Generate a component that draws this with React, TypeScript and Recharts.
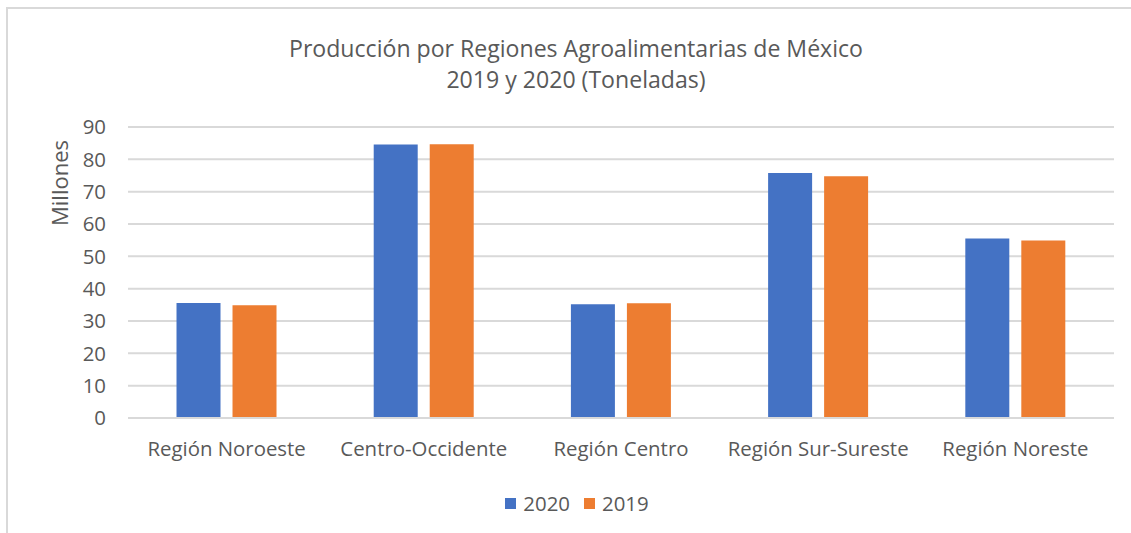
import React from "react";
import { BarChart, Bar, XAxis, YAxis, CartesianGrid } from "recharts";

const categories = ["Región Noroeste", "Centro-Occidente", "Región Centro", "Región Sur-Sureste", "Región Noreste"];
const values2020 = [35.6, 84.6, 35.2, 75.8, 55.5];
const values2019 = [34.9, 84.7, 35.5, 74.8, 54.9];
const yTicks = [0, 10, 20, 30, 40, 50, 60, 70, 80, 90];
const titleLines = ["Producción por Regiones Agroalimentarias de México", "2019 y 2020 (Toneladas)"];
const yLabel = "Millones";
const seriesNames = ["2020", "2019"];
const seriesColors = ["#4472C4", "#ED7D31"];

const data = categories.map((c, i) => ({ name: c, y2020: values2020[i], y2019: values2019[i] }));

const FONT = "'Open Sans', Lato, sans-serif";
const GRAY = "#595959";

export default function App() {
  return (
    <div style={{ position: "absolute", left: 0, top: 0, width: 1131, height: 533, background: "#fff", fontFamily: FONT }}>
      <div style={{ position: "absolute", left: 6, top: 7, right: 0, bottom: 0, borderTop: "2px solid #d9d9d9", borderLeft: "2px solid #d9d9d9" }} />
      <div style={{ position: "absolute", left: 0, width: 1152, top: 33, textAlign: "center", color: GRAY, fontSize: 23.1, lineHeight: "31px" }}>
        <div>{titleLines[0]}</div>
        <div>{titleLines[1]}</div>
      </div>
      <div style={{ position: "absolute", left: 59, top: 183, transform: "translate(-50%, -50%) rotate(-90deg)", color: GRAY, fontSize: 22, whiteSpace: "nowrap" }}>
        {yLabel}
      </div>
      <BarChart
        width={1131}
        height={533}
        data={data}
        margin={{ top: 127, right: 17, bottom: 85, left: 48 }}
        barCategoryGap="24.6%"
        barGap={12}
        style={{ position: "absolute", left: 0, top: 0 }}
      >
        <CartesianGrid vertical={false} stroke="#d9d9d9" strokeWidth={2} />
        <XAxis
          dataKey="name"
          height={30}
          axisLine={{ stroke: "#d9d9d9", strokeWidth: 2 }}
          tickLine={false}
          tickSize={0}
          tickMargin={24}
          interval={0}
          tick={{ fill: GRAY, fontSize: 20.4, fontFamily: FONT }}
        />
        <YAxis
          width={80}
          domain={[0, 90]}
          ticks={yTicks}
          interval={0}
          axisLine={false}
          tickLine={false}
          tickSize={0}
          tickMargin={22}
          tick={{ fill: GRAY, fontSize: 20.4, fontFamily: FONT }}
        />
        <Bar dataKey="y2020" name={seriesNames[0]} fill={seriesColors[0]} isAnimationActive={false} />
        <Bar dataKey="y2019" name={seriesNames[1]} fill={seriesColors[1]} isAnimationActive={false} />
      </BarChart>
      <div style={{ position: "absolute", left: 0, width: 1154, top: 489, display: "flex", justifyContent: "center", alignItems: "center", color: GRAY, fontSize: 20.4, gap: 14 }}>
        {seriesNames.map((n, i) => (
          <div key={n} style={{ display: "flex", alignItems: "center", gap: 7 }}>
            <span style={{ display: "inline-block", width: 11, height: 11, background: seriesColors[i] }} />
            <span>{n}</span>
          </div>
        ))}
      </div>
    </div>
  );
}
